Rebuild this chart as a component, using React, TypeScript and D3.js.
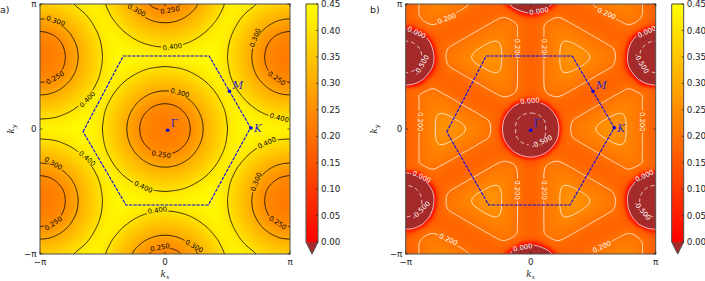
import React, { useMemo } from 'react';
import * as d3 from 'd3';

// quadrant of each map, kx and ky from 0 to pi in 17 steps
const fieldA = [
  [.215,.22,.23,.244,.27,.304,.337,.369,.40,.425,.44,.447,.44,.435,.431,.429,.428],
  [.22,.224,.233,.247,.275,.307,.339,.372,.403,.425,.44,.434,.428,.42,.413,.41,.408],
  [.229,.233,.241,.258,.287,.316,.346,.378,.407,.428,.431,.421,.408,.396,.385,.379,.377],
  [.244,.247,.258,.279,.304,.331,.36,.389,.415,.43,.418,.401,.382,.365,.354,.347,.344],
  [.27,.275,.287,.304,.325,.35,.376,.403,.424,.421,.401,.377,.356,.337,.323,.314,.312],
  [.304,.307,.316,.331,.35,.372,.395,.417,.425,.406,.38,.354,.331,.31,.293,.283,.279],
  [.337,.339,.346,.36,.376,.395,.414,.428,.417,.392,.363,.335,.308,.285,.263,.252,.248],
  [.369,.372,.378,.389,.403,.417,.428,.429,.409,.38,.35,.318,.29,.261,.244,.235,.233],
  [.40,.403,.407,.415,.424,.431,.44,.426,.404,.373,.341,.309,.277,.248,.234,.225,.222],
  [.425,.425,.428,.432,.438,.446,.44,.425,.40,.372,.337,.304,.27,.244,.229,.22,.216],
  [.414,.415,.419,.424,.43,.437,.44,.425,.402,.371,.339,.306,.272,.246,.231,.222,.218],
  [.384,.386,.393,.402,.414,.424,.433,.428,.406,.376,.344,.313,.284,.254,.238,.23,.227],
  [.352,.354,.362,.373,.389,.407,.422,.43,.414,.386,.357,.328,.30,.272,.252,.243,.24],
  [.319,.322,.331,.344,.362,.382,.405,.423,.422,.40,.372,.344,.32,.299,.28,.266,.262],
  [.287,.29,.30,.316,.336,.36,.385,.409,.428,.414,.39,.366,.344,.325,.31,.30,.297],
  [.254,.258,.27,.29,.313,.339,.366,.395,.42,.426,.41,.39,.37,.353,.34,.332,.329],
  [.235,.238,.247,.266,.293,.322,.353,.382,.41,.43,.425,.413,.396,.382,.37,.363,.361],
];
const fieldB = [
  [-.85,-.72,-.48,-.2,.105,.206,.217,.228,.24,.251,.263,.263,.244,.225,.206,.186,.167],
  [-.72,-.645,-.45,-.15,.135,.197,.208,.218,.228,.238,.247,.256,.244,.225,.206,.186,.167],
  [-.51,-.45,-.27,.005,.173,.183,.192,.202,.212,.221,.231,.24,.241,.225,.206,.186,.167],
  [-.2,-.13,.003,.16,.179,.17,.176,.185,.195,.204,.214,.224,.231,.223,.206,.186,.167],
  [.105,.135,.195,.202,.196,.186,.177,.169,.178,.188,.198,.207,.215,.217,.203,.186,.167],
  [.168,.187,.203,.214,.211,.203,.193,.184,.174,.171,.181,.19,.20,.204,.199,.184,.167],
  [.168,.187,.206,.222,.227,.22,.21,.20,.191,.181,.172,.174,.184,.185,.05,-.07,-.13],
  [.168,.187,.206,.226,.24,.236,.226,.217,.207,.198,.188,.179,.169,.04,-.21,-.38,-.45],
  [.168,.187,.206,.226,.245,.253,.243,.234,.224,.214,.204,.194,.125,-.12,-.42,-.61,-.68],
  [.168,.187,.206,.226,.245,.264,.26,.249,.238,.227,.215,.204,.105,-.21,-.51,-.72,-.84],
  [.168,.187,.206,.226,.245,.26,.251,.241,.232,.221,.21,.20,.125,-.16,-.48,-.67,-.77],
  [.168,.187,.206,.226,.243,.244,.234,.225,.215,.205,.196,.186,.17,-.04,-.32,-.5,-.57],
  [.168,.187,.206,.224,.234,.227,.218,.208,.198,.189,.179,.17,.176,.115,-.07,-.23,-.28],
  [.168,.187,.204,.219,.218,.21,.201,.191,.182,.172,.173,.183,.192,.198,.16,.075,.045],
  [.165,.18,.201,.207,.203,.194,.184,.175,.171,.18,.19,.20,.208,.212,.202,.186,.167],
  [-.045,.003,.105,.185,.187,.177,.168,.178,.187,.197,.206,.216,.224,.22,.206,.186,.167],
  [-.38,-.32,-.15,.07,.17,.175,.185,.194,.204,.214,.223,.233,.238,.225,.206,.186,.167],
];
const levelsA = [0.25, 0.3, 0.4];
const levelsB = [-0.5, 0, 0.2, 0.24];
const colorbarTicks = [0, 0.05, 0.1, 0.15, 0.2, 0.25, 0.3, 0.35, 0.4, 0.45];
const piTicks = [
  { v: -Math.PI, t: '\u2212\u03c0' },
  { v: 0, t: '0' },
  { v: Math.PI, t: '\u03c0' },
];
// hexagon and points in (kx, ky)
const hexA = [[-2.06, -0.068], [-1.05, 1.834], [1.11, 1.834], [2.15, 0.033], [1.09, -1.91], [-0.98, -1.91]];
const hexB = [[-2.11, -0.075], [-1.12, 1.834], [1.045, 1.834], [2.1, 0.033], [0.988, -1.91], [-1.055, -1.91]];
const pointsA = [['\u0393', 0.067, -0.033], ['M', 1.62, 0.947], ['K', 2.16, 0.025]];
const pointsB = [['\u0393', 0, -0.033], ['M', 1.566, 0.947], ['K', 2.1, 0.033]];
// contour labels: text, px from the frame's left, px from its top, rotation
const labelsA = [
  ['0.300', 15.7, 16.7, 20], ['0.250', 15, 73.7, -30], ['0.300', 96.7, 6, 30], ['0.250', 130, 6, -10],
  ['0.400', 132.3, 42.7, -8], ['0.300', 215, 33.7, -68], ['0.250', 236.7, 74.3, 35], ['0.400', 47.3, 95.3, -45],
  ['0.300', 140, 88.7, 15], ['0.400', 239.3, 113.7, 15], ['0.400', 226.7, 138.7, -25], ['0.250', 121.3, 150.3, 8],
  ['0.400', 47.3, 154.3, 40], ['0.300', 13.3, 159.3, 30], ['0.400', 103.3, 182.7, 25], ['0.400', 117.3, 206, -8],
  ['0.300', 216, 177.7, -68], ['0.250', 13.3, 219.3, -35], ['0.250', 237.7, 218.7, 35], ['0.250', 120, 243.3, -10],
  ['0.300', 154.3, 242, 30],
];
const labelsB = [
  ['0.200', 41, 14.3, -20], ['0.000', 133.3, 7, -10], ['0.200', 201, 9.3, 25], ['0.000', 11, 28.3, 25],
  ['0.000', 241, 27.7, -25], ['0.200', 112, 44.3, 90], ['0.200', 138.7, 44.3, 90], ['-0.500', 16, 61, -60],
  ['-0.500', 236, 59.3, 60], ['0.000', 124.3, 96.7, -5], ['0.200', 14.3, 117.7, 90], ['0.200', 236.7, 117.7, 90],
  ['-0.500', 136, 137.7, -25], ['0.000', 16, 172.7, 25], ['0.000', 238.7, 171.7, -25], ['0.200', 112, 186, 90],
  ['0.200', 138.7, 186, 90], ['-0.500', 15.3, 206, -45], ['-0.500', 237, 206.7, 50], ['0.200', 42.7, 235.3, 25],
  ['0.000', 117, 243.3, -10], ['0.200', 196, 242.7, -25],
];

const FRAME = 250;
const TOP = 4;
const FINE = 8; // fine samples per grid step
const PAD = 4; // extra samples beyond the frame, so the contour borders fall under the clip
const BROWN = '#a52a2a';
const AXIS = '#4d4d4d';
const SANS = '"DejaVu Sans", sans-serif';
const SERIF = '"DejaVu Serif", serif';

const autumn = (v: number) => {
  const t = Math.max(0, Math.min(1, v / 0.45));
  return d3.rgb(255, 255 * t, 0);
};

// smooth the mirrored grid so the colours and lines have no facets
function fineGrid(quadrant: number[][], blur: number, floor: number) {
  const at = (i: number, j: number) => {
    const a = Math.abs(Math.max(0, Math.min(32, i)) - 16);
    const b = Math.abs(Math.max(0, Math.min(32, j)) - 16);
    return quadrant[b][a];
  };
  const cr = (p0: number, p1: number, p2: number, p3: number, t: number) =>
    0.5 * (2 * p1 + (p2 - p0) * t + (2 * p0 - 5 * p1 + 4 * p2 - p3) * t * t + (3 * p1 - p0 - 3 * p2 + p3) * t * t * t);
  const n = 32 * FINE + 1 + 2 * PAD;
  const values = new Float64Array(n * n);
  for (let r = 0; r < n; r++) {
    const gy = Math.max(0, Math.min(32, (r - PAD) / FINE));
    const j = Math.min(31, Math.floor(gy));
    const ty = gy - j;
    for (let c = 0; c < n; c++) {
      const gx = Math.max(0, Math.min(32, (c - PAD) / FINE));
      const i = Math.min(31, Math.floor(gx));
      const tx = gx - i;
      const row = (k: number) => cr(at(i - 1, k), at(i, k), at(i + 1, k), at(i + 2, k), tx);
      values[r * n + c] = cr(row(j - 1), row(j), row(j + 1), row(j + 2), ty);
    }
  }
  // the sharp disc stays as it is, only the part above the floor gets blurred
  const upper = values.map((v) => Math.max(v, floor));
  d3.blur2({ data: upper, width: n }, blur);
  const out = values.map((v, i) => (v < floor ? v : upper[i]));
  return { n, values: out };
}

function heatImage(n: number, values: Float64Array) {
  const size = n - 2 * PAD;
  const canvas = document.createElement('canvas');
  canvas.width = size;
  canvas.height = size;
  const ctx = canvas.getContext('2d')!;
  const img = ctx.createImageData(size, size);
  const under = d3.rgb(BROWN);
  for (let r = 0; r < size; r++) {
    for (let c = 0; c < size; c++) {
      const v = values[(r + PAD) * n + c + PAD];
      const col = v < 0 ? under : autumn(v);
      const o = ((size - 1 - r) * size + c) * 4;
      img.data[o] = col.r;
      img.data[o + 1] = col.g;
      img.data[o + 2] = col.b;
      img.data[o + 3] = 255;
    }
  }
  ctx.putImageData(img, 0, 0);
  return canvas.toDataURL();
}

function Panel({ id, left, field, levels, lineColor, labels, hex, points, tag, tagX, kyX, blur, floor }: any) {
  const x = d3.scaleLinear().domain([-Math.PI, Math.PI]).range([left, left + FRAME]);
  const y = d3.scaleLinear().domain([-Math.PI, Math.PI]).range([TOP + FRAME, TOP]);

  const { href, paths } = useMemo(() => {
    const { n, values } = fineGrid(field, blur, floor);
    const gx = d3.scaleLinear().domain([PAD + 0.5, n - PAD - 0.5]).range([left, left + FRAME]);
    const gy = d3.scaleLinear().domain([PAD + 0.5, n - PAD - 0.5]).range([TOP + FRAME, TOP]);
    const path = d3.geoPath(
      d3.geoTransform({
        point(a: number, b: number) {
          this.stream.point(gx(a), gy(b));
        },
      }),
    );
    const contours = d3.contours().size([n, n]).thresholds(levels)(values as any);
    return {
      href: heatImage(n, values),
      paths: contours.map((c: any) => ({ value: c.value, d: path(c) })),
    };
  }, [field, levels, left, blur, floor]);

  const hexLine = d3.line().x((d: any) => x(d[0])).y((d: any) => y(d[1])).curve(d3.curveLinearClosed);

  return (
    <g>
      <defs>
        <clipPath id={`${id}-clip`}>
          <rect x={left} y={TOP} width={FRAME} height={FRAME} />
        </clipPath>
        <mask id={`${id}-gaps`} maskUnits="userSpaceOnUse" x={0} y={0} width={705} height={281}>
          <rect x={0} y={0} width={705} height={281} fill="#fff" />
          {labels.map((l: any, i: number) => (
            <rect
              key={i}
              x={-(l[0].length * 2.2)}
              y={-3}
              width={l[0].length * 4.4}
              height={6}
              fill="#000"
              transform={`translate(${left + l[1]},${TOP + l[2]}) rotate(${l[3]})`}
            />
          ))}
        </mask>
      </defs>
      <image href={href} x={left} y={TOP} width={FRAME} height={FRAME} preserveAspectRatio="none" />
      <g clipPath={`url(#${id}-clip)`}>
        <g mask={`url(#${id}-gaps)`}>
          {paths.map((p: any) => (
            <path
              key={p.value}
              d={p.d}
              fill="none"
              stroke={lineColor}
              strokeWidth={0.9}
              strokeOpacity={lineColor === '#fff' ? 0.85 : 0.9}
              strokeDasharray={p.value < 0 ? '4 3' : undefined}
            />
          ))}
        </g>
        {labels.map((l: any, i: number) => (
          <text
            key={i}
            transform={`translate(${left + l[1]},${TOP + l[2]}) rotate(${l[3]})`}
            textAnchor="middle"
            dy="0.36em"
            fontFamily={SANS}
            fontSize={6.8}
            fill={lineColor}
          >
            {l[0]}
          </text>
        ))}
      </g>
      <path d={hexLine(hex) as string} fill="none" stroke="#0a0ae6" strokeWidth={1.1} strokeDasharray="3.4 1.1" />
      {points.map((p: any) => (
        <g key={p[0]}>
          <circle cx={x(p[1])} cy={y(p[2])} r={1.8} fill="#0000e0" />
          <text
            x={x(p[1]) + 3}
            y={y(p[2]) + (p[0] === 'M' ? -2 : p[0] === 'K' ? 4 : -3)}
            fontFamily={SERIF}
            fontStyle={p[0] === '\u0393' ? 'normal' : 'italic'}
            fontSize={10.5}
            fill="#2a2ac8"
          >
            {p[0]}
          </text>
        </g>
      ))}
      <rect x={left} y={TOP} width={FRAME} height={FRAME} fill="none" stroke={AXIS} strokeWidth={1} />
      {piTicks.map((t) => (
        <g key={t.t} fill="#222" fontFamily={SANS} fontSize={8.7}>
          <line x1={x(t.v)} x2={x(t.v)} y1={TOP} y2={TOP + 2.5} stroke="#222" strokeWidth={0.7} />
          <line x1={x(t.v)} x2={x(t.v)} y1={TOP + FRAME} y2={TOP + FRAME - 2.5} stroke="#222" strokeWidth={0.7} />
          <line x1={left} x2={left + 2.5} y1={y(t.v)} y2={y(t.v)} stroke="#222" strokeWidth={0.7} />
          <line x1={left + FRAME} x2={left + FRAME - 2.5} y1={y(t.v)} y2={y(t.v)} stroke="#222" strokeWidth={0.7} />
          <text x={x(t.v)} y={TOP + FRAME + 11} textAnchor="middle">
            {t.t}
          </text>
          <text x={left - 3.5} y={y(t.v)} dy="0.36em" textAnchor="end">
            {t.t}
          </text>
        </g>
      ))}
      <text x={left + FRAME / 2} y={277} textAnchor="middle" fontFamily={SERIF} fontStyle="italic" fontSize={8.7} fill="#222">
        k<tspan fontSize={6.2} dy={2}>x</tspan>
      </text>
      <text
        transform={`translate(${kyX},${TOP + FRAME / 2}) rotate(-90)`}
        textAnchor="middle"
        fontFamily={SERIF}
        fontStyle="italic"
        fontSize={8.7}
        fill="#222"
      >
        k<tspan fontSize={6.2} dy={2}>y</tspan>
      </text>
      <text x={tagX} y={13} fontFamily={SANS} fontSize={9.5} fill="#222">
        {tag}
      </text>
    </g>
  );
}

function Colorbar({ left }: { left: number }) {
  const width = 12;
  const scale = d3.scaleLinear().domain([0, 0.45]).range([242, TOP]);
  const steps = d3.range(0, 0.45, 0.45 / 238);
  const outline = `M${left},${TOP}H${left + width}V242L${left + width / 2},254L${left},242Z`;
  return (
    <g>
      {steps.map((v) => (
        <rect key={v} x={left} y={scale(v) - 1.4} width={width} height={1.4} fill={autumn(v).toString()} />
      ))}
      <path d={`M${left},242H${left + width}L${left + width / 2},254Z`} fill={BROWN} />
      <path d={outline} fill="none" stroke={AXIS} strokeWidth={1} />
      {colorbarTicks.map((t) => (
        <g key={t}>
          <line x1={left + width - 2} x2={left + width} y1={scale(t)} y2={scale(t)} stroke="#222" strokeWidth={0.7} />
          <text x={left + width + 3} y={scale(t)} dy="0.36em" fontFamily={SANS} fontSize={8.7} fill="#222">
            {t.toFixed(2)}
          </text>
        </g>
      ))}
    </g>
  );
}

export default function App() {
  return (
    <svg width={705} height={281} style={{ position: 'absolute', left: 0, top: 0, display: 'block', background: '#fff' }}>
      <Panel
        id="a"
        left={40}
        field={fieldA}
        levels={levelsA}
        lineColor="#000"
        labels={labelsA}
        hex={hexA}
        points={pointsA}
        tag="a)"
        tagX={0}
        kyX={14}
        blur={2}
        floor={-1}
      />
      <Colorbar left={306} />
      <Panel
        id="b"
        left={405.7}
        field={fieldB}
        levels={levelsB}
        lineColor="#fff"
        labels={labelsB}
        hex={hexB}
        points={pointsB}
        tag="b)"
        tagX={370}
        kyX={377}
        blur={3.5}
        floor={0.14}
      />
      <Colorbar left={671.7} />
    </svg>
  );
}
